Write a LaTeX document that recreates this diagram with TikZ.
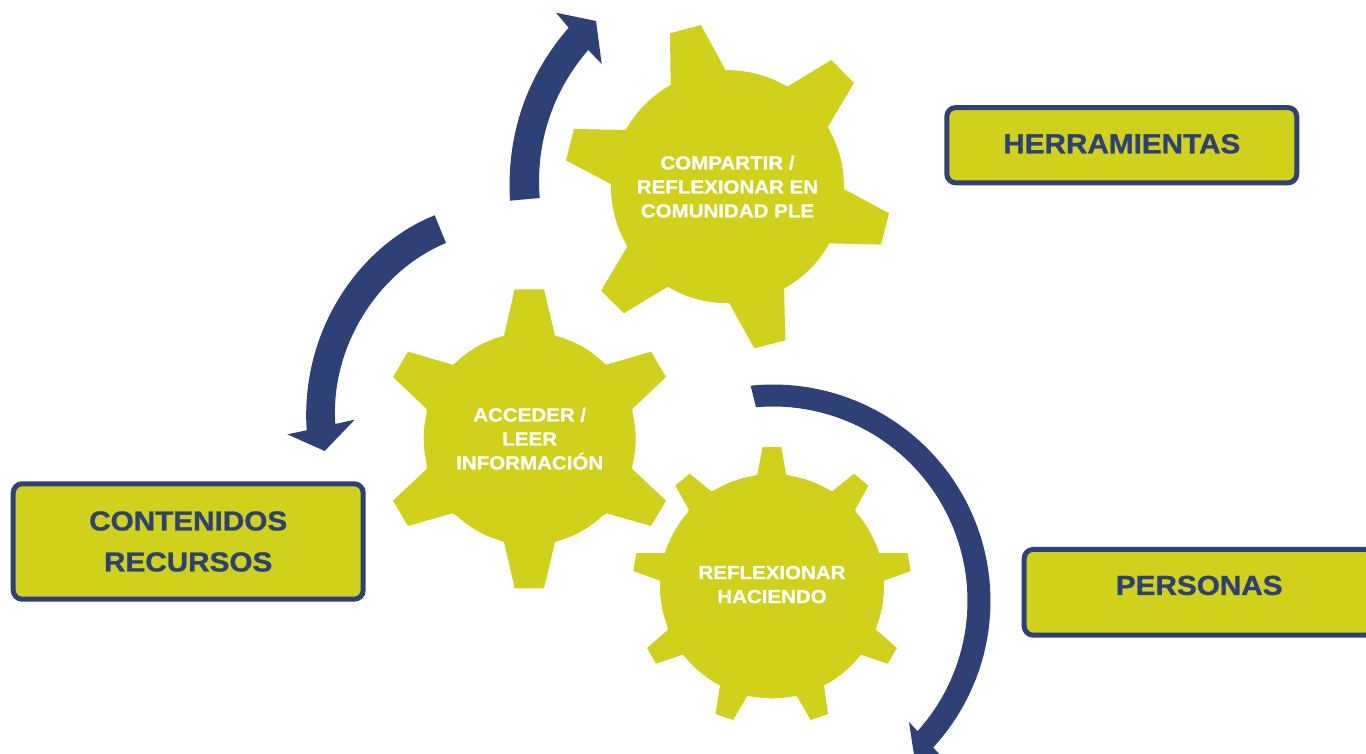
\documentclass[tikz,border=0pt]{standalone}
\usepackage{fontspec}
\newfontfamily\lab{Liberation Sans}[BoldFeatures={FakeBold=1,FakeStretch=1.08}]
\definecolor{lime}{HTML}{CFD11A}
\definecolor{navy}{HTML}{2F4077}
\tikzset{
  gearfill/.style={fill=lime,draw=none},
  gearhub/.style={circle,fill=lime,draw=none,inner sep=0pt,text=white,align=center,
    font=\lab\bfseries\fontsize{19}{24}\selectfont},
  labelbox/.style={rectangle,rounded corners=9pt,fill=lime,draw=navy,line width=5pt,inner sep=0pt,
    text=navy,align=center,font=\lab\bfseries\fontsize{27.5}{41}\selectfont},
  bandfill/.style={fill=navy,draw=none},
}
\begin{document}
\begin{tikzpicture}[x=1pt,y=-1pt]
\clip (0,0) rectangle (1366,754);
% teeth
\begin{scope}[shift={(550,10)},x=0.33333pt,y=-0.33333pt]
\fill[gearfill] (360,70)--(453,45)--(527,181)--(712,230)--(844,150)--(912,219)--(834,350)--(882,537)--(1017,610)--(993,704)--(838,700)--(702,835)--(706,991)--(613,1015)--(538,880)--(353,830)--(222,910)--(153,842)--(232,710)--(184,523)--(48,451)--(72,357)--(228,360)--(362,225)--cycle;
\end{scope}
\begin{scope}[shift={(380,280)},x=0.33333pt,y=-0.33333pt]
\fill[gearfill] (404,28)--(492,28)--(525,167)--(680,254)--(813,215)--(858,291)--(757,387)--(757,567)--(858,662)--(813,738)--(680,700)--(525,786)--(492,925)--(404,925)--(372,786)--(217,700)--(84,738)--(39,662)--(140,567)--(140,387)--(39,291)--(84,215)--(217,254)--(372,167)--cycle;
\end{scope}
\begin{scope}[shift={(620,440)},x=0.33333pt,y=-0.33333pt]
\fill[gearfill] (428,21)--(484,21)--(498,104)--(637,154)--(702,101)--(745,137)--(705,210)--(777,339)--(863,339)--(872,393)--(792,422)--(768,569)--(831,624)--(803,671)--(723,644)--(612,736)--(624,822)--(572,840)--(530,768)--(382,768)--(339,840)--(287,822)--(300,736)--(188,644)--(108,671)--(81,624)--(144,569)--(120,422)--(40,393)--(49,339)--(135,339)--(207,210)--(166,137)--(209,101)--(274,154)--(412,104)--cycle;
\end{scope}
% hubs
\node[gearhub,minimum size=233pt] (g1) at (727.5,186.7) {COMPARTIR /\\REFLEXIONAR EN\\COMUNIDAD PLE};
\node[gearhub,minimum size=212pt] (g2) at (529.7,438.7) {ACCEDER /\\LEER\\INFORMACIÓN};
\node[gearhub,minimum size=224pt] (g3) at (772,586.3) {\raisebox{7pt}{\begin{tabular}{@{}c@{}}REFLEXIONAR\\HACIENDO\end{tabular}}};
% curved arrows
\fill[bandfill] (510,200.7) .. controls (506,130) and (530,72) .. (568.7,27.7) -- (556,12.7) -- (596,21) -- (601.7,64) -- (588.3,50) .. controls (555,88) and (535,140) .. (539.7,198) -- cycle;
\fill[bandfill] (434.7,215.3) .. controls (360,245) and (300,330) .. (306.7,430.3) -- (287.3,434.3) -- (324.7,451) -- (354.7,419.7) -- (335.3,424) .. controls (330,345) and (380,270) .. (446,243) -- cycle;
\fill[bandfill] plot[domain=-95.9:42.6,samples=70] ({773+217.5*cos(\x)},{601+216.5*sin(\x)})
  -- (955,770) -- (916,768) -- (909,722)
  -- plot[domain=42:-95,samples=70] ({773+194.5*cos(\x)},{601+194.5*sin(\x)}) -- cycle;
% boxes
\node[labelbox,minimum width=350pt,minimum height=75.3pt] (herr) at (1121.8,145.2) {\raisebox{3pt}{HERRAMIENTAS}};
\node[labelbox,minimum width=350pt,minimum height=115.4pt] (cont) at (188.2,541.5) {CONTENIDOS\\RECURSOS};
\node[labelbox,minimum width=350pt,minimum height=85.7pt] (pers) at (1199.2,592.3) {\raisebox{14pt}{PERSONAS}};
\end{tikzpicture}
\end{document}
